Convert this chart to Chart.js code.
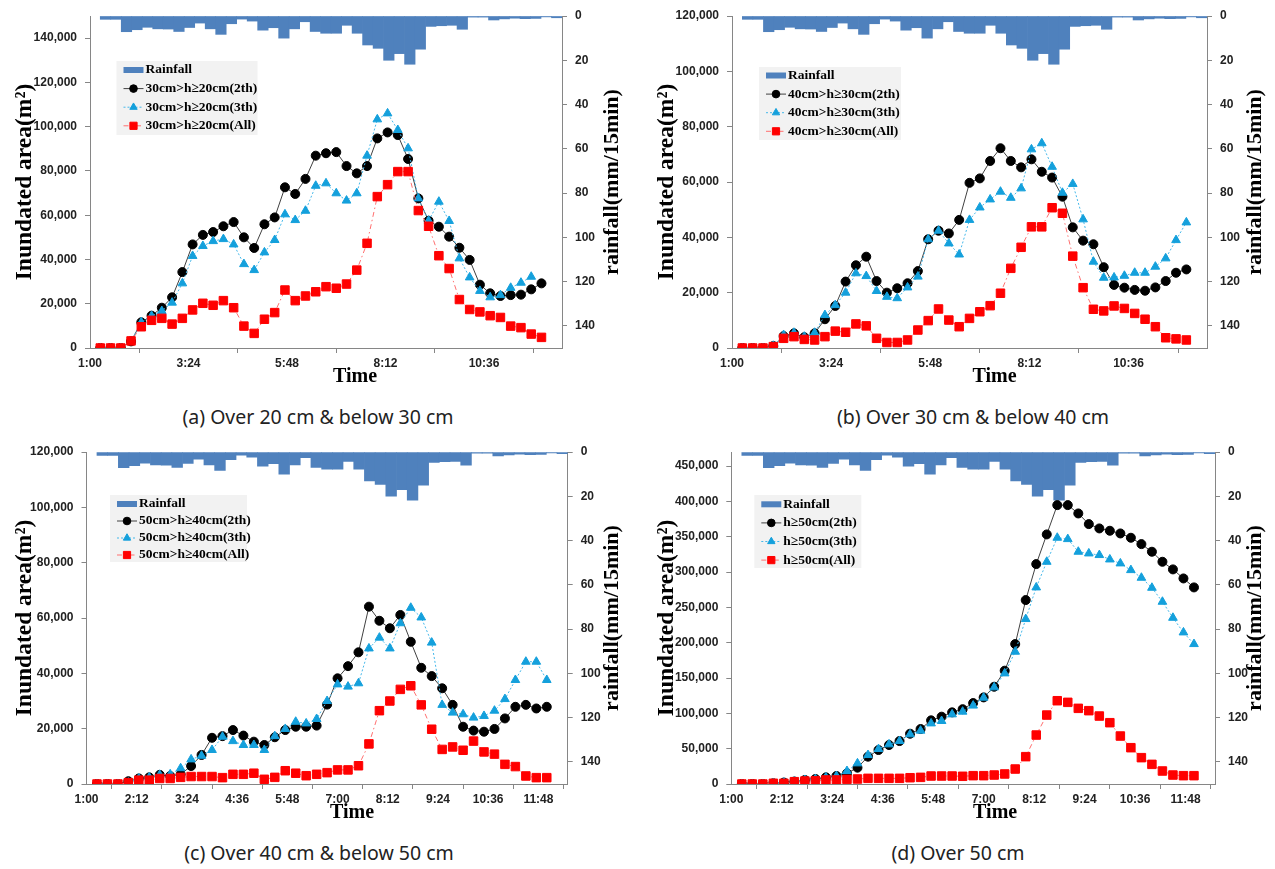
<!DOCTYPE html>
<html>
<head>
<meta charset="utf-8">
<title>Inundated area and rainfall</title>
<script src="https://cdn.jsdelivr.net/npm/chart.js@4.4.1/dist/chart.umd.min.js"></script>
<style>
  html, body { margin: 0; padding: 0; background: #fff; }
  body { position: relative; width: 1275px; height: 869px; overflow: hidden; }
  .box { position: absolute; }
  .cap { position: absolute; transform: translateX(-50%); white-space: nowrap;
         font-family: "Noto Sans", sans-serif; font-size: 19.5px; color: #222; }
</style>
</head>
<body>
<div class="box" style="left:0;top:0;width:640px;height:400px"><canvas id="chart-a"></canvas></div>
<div class="box" style="left:640px;top:0;width:635px;height:400px"><canvas id="chart-b"></canvas></div>
<div class="box" style="left:0;top:436px;width:640px;height:400px"><canvas id="chart-c"></canvas></div>
<div class="box" style="left:640px;top:436px;width:635px;height:400px"><canvas id="chart-d"></canvas></div>
<div class="cap" style="left:318px;top:403px">(a) Over 20 cm &amp; below 30 cm</div>
<div class="cap" style="left:973px;top:403px">(b) Over 30 cm &amp; below 40 cm</div>
<div class="cap" style="left:319px;top:839px">(c) Over 40 cm &amp; below 50 cm</div>
<div class="cap" style="left:958px;top:839px">(d) Over 50 cm</div>

<script>
'use strict';

// 15 min results
var times = ['1:15','1:30','1:45','2:00','2:15','2:30','2:45','3:00','3:15','3:30','3:45',
  '4:00','4:15','4:30','4:45','5:00','5:15','5:30','5:45','6:00','6:15','6:30','6:45',
  '7:00','7:15','7:30','7:45','8:00','8:15','8:30','8:45','9:00','9:15','9:30','9:45',
  '10:00','10:15','10:30','10:45','11:00','11:15','11:30','11:45','12:00'];

var ticksAB = ['1:00','3:24','5:48','8:12','10:36'];
var ticksCD = ['1:00','2:12','3:24','4:36','5:48','7:00','8:12','9:24','10:36','11:48'];
var rainTicks = [0, 20, 40, 60, 80, 100, 120, 140];
var areaTicksA = [0, 20000, 40000, 60000, 80000, 100000, 120000, 140000];
var areaTicksBC = [0, 20000, 40000, 60000, 80000, 100000, 120000];
var areaTicksD = [0, 50000, 100000, 150000, 200000, 250000, 300000, 350000, 400000, 450000];

// mm / 15min
var rainfall = [1.5, 1.5, 7.1, 6.2, 5.1, 5.8, 5.9, 7.0, 5.2, 3.2, 5.8, 8.3, 3.5, 1.4, 2.3,
  6.4, 5.3, 10.0, 5.8, 2.6, 7.0, 7.8, 7.8, 4.2, 7.8, 13.1, 14.6, 20.0, 17.0, 21.8, 15.0,
  4.7, 4.4, 4.2, 6.0, 0.5, 0.5, 1.8, 1.3, 1.0, 1.2, 1.1, 0.4, 0.8];

// (a) 30cm > h >= 20cm
var a2th = [0, 0, 0, 3000, 11600, 14600, 18200, 22900, 34300, 46800, 51100, 52400, 55000, 56900,
  50000, 45200, 55900, 59000, 72600, 69600, 76400, 86900, 88000, 88500, 82200, 78900, 82200,
  94700, 97400, 96200, 85400, 67600, 57500, 54800, 50300, 45300, 39800, 28600, 24700, 23500,
  23900, 24100, 26500, 29200];
var a3th = [0, 0, 0, 3000, 11600, 14500, 16700, 20500, 29200, 41600, 46100, 48300, 49200, 46800,
  37900, 35200, 43200, 48800, 60400, 57800, 62000, 73300, 74400, 69900, 66600, 69900, 86900,
  103300, 106000, 98500, 90200, 67600, 57500, 66100, 57400, 40500, 31900, 25800, 22900, 23900,
  27200, 29500, 32200, null];
var aAll = [0, 0, 0, 3200, 9600, 12500, 13400, 10800, 13400, 17200, 20200, 19300, 21400, 18200,
  9900, 6600, 13000, 16000, 26200, 21400, 23500, 25400, 27700, 27000, 28900, 35200, 47300,
  68400, 73800, 79700, 79700, 62100, 55000, 41700, 35900, 21900, 17400, 16300, 14600, 13800,
  9900, 9200, 6300, 4800];

// (b) 40cm > h >= 30cm
var b2th = [0, 0, 0, 700, 4300, 5300, 3900, 5300, 10400, 15200, 24000, 29900, 33000, 24200,
  20000, 21600, 23400, 27800, 39300, 42400, 41400, 46300, 59700, 61300, 67600, 72200, 67600,
  65300, 68200, 63700, 61600, 54700, 43600, 38800, 37500, 29200, 22800, 21800, 21000, 20700,
  21900, 24200, 27200, 28400];
var b3th = [0, 0, 0, 800, 4700, 5500, 4100, 5500, 11900, 15500, 20000, 27000, 26000, 20600,
  18500, 18000, 21900, 25800, 39300, 42400, 37800, 33800, 46300, 50800, 53700, 56500, 54300,
  57700, 71800, 74000, 65500, 56100, 59300, 46500, 31200, 25400, 25500, 26100, 27200, 27200,
  29400, 32400, 39000, 45400];
var bAll = [0, 0, 0, 500, 3500, 4100, 3100, 2900, 4100, 6100, 5700, 8700, 8000, 3500,
  2000, 2000, 2900, 6500, 9900, 14100, 10100, 7700, 10700, 13100, 15300, 19800, 28800,
  36400, 43800, 43800, 50700, 48700, 33200, 21800, 14000, 13400, 15200, 14300, 12500, 10400,
  7700, 3700, 3300, 2900];

// (c) 50cm > h >= 40cm
var c2th = [0, 0, 0, 1000, 2000, 2400, 3300, 2900, 3500, 6500, 10500, 16700, 17300, 19500,
  17500, 15300, 14100, 16900, 19500, 20700, 20700, 21100, 28700, 38200, 42600, 47600, 64100,
  59000, 56300, 61100, 51400, 42000, 39000, 34600, 28600, 20700, 19300, 18900, 19900, 23700,
  27900, 28600, 27300, 27900];
var c3th = [0, 0, 0, 500, 2000, 2400, 3300, 3500, 5700, 8900, 10200, 12300, 17100, 15500,
  14100, 14100, 12300, 17300, 19900, 22500, 21900, 23500, 30000, 36000, 35200, 36400, 49000,
  52900, 49000, 58100, 63700, 60200, 51100, 28600, 25800, 25200, 24000, 24600, 26500, 30700,
  37600, 44200, 44200, 37600];
var cAll = [0, 0, 0, 500, 1400, 1400, 2000, 2000, 2400, 2700, 2700, 2700, 2300, 3500,
  3500, 3900, 1700, 2400, 4800, 3900, 3000, 3500, 4100, 5100, 5100, 6600, 14500,
  26500, 30000, 34200, 35500, 28600, 19800, 12500, 13400, 12200, 15500, 11600, 10800, 7100,
  6300, 2900, 2300, 2300];

// (d) h >= 50cm
var d2th = [0, 0, 0, 1000, 2000, 3500, 5700, 7100, 9400, 11300, 15100, 23100, 38700, 48100,
  55200, 60800, 71200, 77800, 90100, 95300, 101400, 105900, 114600, 122600, 137700, 160400,
  198100, 260400, 311300, 353300, 394800, 394800, 383000, 367900, 361800, 358500, 354700,
  348600, 339600, 328800, 314600, 303800, 291000, 278300];
var d3th = [0, 0, 0, 1000, 2000, 3500, 5700, 7100, 9400, 11300, 18400, 29200, 41000, 49500,
  56100, 60800, 70300, 75500, 85800, 89200, 98600, 102400, 111000, 122200, 136800, 156600,
  187300, 233500, 278300, 314600, 348600, 346700, 328800, 326400, 324100, 317900, 312300,
  302800, 292000, 277800, 258000, 235300, 214600, 198100];
var dAll = [0, 0, 0, 1000, 1000, 3300, 4200, 4700, 5700, 5700, 6600, 7100, 8000, 8000,
  8000, 8000, 8900, 9400, 11300, 11300, 11300, 10900, 11800, 11800, 12700, 14200, 21200,
  38700, 69300, 97600, 117900, 115600, 107100, 103800, 96200, 86800, 67900, 51400, 37300,
  27800, 18400, 12700, 11800, 11800];

var X_MIN = 60, X_MAX = 750;   // 1:00 .. 12:30

function toMin(s) {
  var p = s.split(':');
  return +p[0] * 60 + +p[1];
}

function pts(arr) {
  return arr.map(function(v, i) { return { x: toMin(times[i]), y: v }; });
}

// rain columns fill the span from the first result to the right edge
function rainPts() {
  var x0 = toMin(times[0]), w = (X_MAX - x0) / rainfall.length;
  return rainfall.map(function(v, i) { return { x: x0 + (i + 0.5) * w, y: v }; });
}

// legend box, "Time" and the right axis title
var extras = {
  id: 'extras',
  afterDraw: function(chart, args, o) {
    var ctx = chart.ctx, ca = chart.chartArea;
    ctx.save();
    ctx.fillStyle = '#000';
    ctx.textAlign = 'center';
    ctx.textBaseline = 'middle';
    ctx.font = 'bold 20px "Liberation Serif"';
    ctx.fillText('Time', (ca.left + ca.right) / 2 + o.timeDx, ca.bottom + 29);

    ctx.save();
    ctx.translate(ca.right + o.rainDx, (ca.top + ca.bottom) / 2);
    ctx.rotate(-Math.PI / 2);
    ctx.font = 'bold 22px "Liberation Serif"';
    ctx.fillText('rainfall(mm/15min)', 0, 0);
    ctx.restore();

    var lg = o.legend, x0 = ca.left + lg.dx, y0 = ca.top + lg.dy;
    ctx.fillStyle = '#f2f2f2';
    ctx.fillRect(x0, y0, lg.w, lg.h);
    chart.data.datasets.forEach(function(ds, i) {
      var y = y0 + lg.first + i * lg.gap, sx = x0 + 7;
      if (ds.type === 'bar') {
        ctx.fillStyle = ds.backgroundColor;
        ctx.fillRect(sx, y - 3, 20, 6);
      } else {
        ctx.strokeStyle = ds.borderColor;
        ctx.lineWidth = 1;
        ctx.setLineDash(ds.borderDash || []);
        ctx.beginPath();
        ctx.moveTo(sx, y);
        ctx.lineTo(sx + 20, y);
        ctx.stroke();
        ctx.setLineDash([]);
        ctx.fillStyle = ds.pointBackgroundColor;
        ctx.strokeStyle = ds.pointBorderColor;
        Chart.helpers.drawPoint(ctx, {
          pointStyle: ds.pointStyle, radius: ds.pointRadius * 0.85, borderWidth: 1, rotation: 0
        }, sx + 10, y);
      }
      ctx.fillStyle = '#000';
      ctx.textAlign = 'left';
      ctx.font = 'bold 13.5px "Liberation Serif"';
      ctx.fillText(ds.label, sx + 22, y);
    });
    ctx.restore();
  }
};

var tickFont = { family: '"Liberation Sans", Arial, sans-serif', size: 12, weight: 'bold' };
var axisGrey = '#868686';

function makeChart(id, c) {
  return new Chart(document.getElementById(id), {
    type: 'line',
    data: {
      datasets: [
        { type: 'bar', label: 'Rainfall', data: rainPts(), yAxisID: 'y2',
          backgroundColor: '#4f81bd', borderWidth: 0,
          barPercentage: 1, categoryPercentage: 1, order: 4 },
        { label: c.names[0], data: pts(c.s2), yAxisID: 'y',
          borderColor: '#404040', borderWidth: 1,
          pointStyle: 'circle', pointRadius: 4.5,
          pointBackgroundColor: '#000', pointBorderColor: '#000', order: 3 },
        { label: c.names[1], data: pts(c.s3), yAxisID: 'y',
          borderColor: '#45b8ea', borderWidth: 1, borderDash: [2, 2],
          pointStyle: 'triangle', pointRadius: 5,
          pointBackgroundColor: '#14a0dc', pointBorderColor: '#14a0dc', order: 2 },
        { label: c.names[2], data: pts(c.sAll), yAxisID: 'y',
          borderColor: '#ff7070', borderWidth: 1, borderDash: [5, 3, 1.5, 3],
          pointStyle: 'rect', pointRadius: 6,
          pointBackgroundColor: '#ff0000', pointBorderColor: '#ff0000', order: 1 }
      ]
    },
    options: {
      responsive: true,
      maintainAspectRatio: false,
      animation: false,
      layout: { padding: { top: 16, left: 0, right: 0, bottom: 0 } },
      plugins: {
        legend: { display: false },
        tooltip: { enabled: false },
        extras: { timeDx: c.timeDx, rainDx: c.rainDx, legend: c.legend }
      },
      scales: {
        x: {
          type: 'linear', min: X_MIN, max: X_MAX, offset: false,
          afterBuildTicks: function(s) {
            s.ticks = c.ticks.map(function(t) { return { value: toMin(t) }; });
          },
          ticks: {
            callback: function(v, i) { return c.ticks[i]; },
            font: tickFont, color: '#222', padding: 3, maxRotation: 0, autoSkip: false
          },
          grid: { drawOnChartArea: false, tickLength: 5, color: axisGrey },
          border: { color: axisGrey },
          afterFit: function(s) { s.height = 52; }
        },
        y: {
          position: 'left', min: 0, max: c.yMax,
          afterBuildTicks: function(s) {
            s.ticks = c.yTicks.map(function(v) { return { value: v }; });
          },
          ticks: {
            callback: function(v) { return v.toLocaleString('en-US'); },
            font: tickFont, color: '#222', padding: 8
          },
          grid: { drawOnChartArea: false, tickLength: 5, color: axisGrey },
          border: { color: axisGrey },
          title: {
            display: true, text: 'Inundated area(m²)', color: '#000',
            font: { family: '"Liberation Serif"', size: 23.5, weight: 'bold' },
            padding: { top: c.titlePad, bottom: 0 }
          },
          afterFit: function(s) { s.width = c.yW; }
        },
        y2: {
          position: 'right', reverse: true, min: 0, max: 150,
          afterBuildTicks: function(s) {
            s.ticks = rainTicks.map(function(v) { return { value: v }; });
          },
          ticks: { font: tickFont, color: '#222', padding: 8 },
          grid: { drawOnChartArea: false, tickLength: 5, color: axisGrey },
          border: { color: axisGrey },
          afterFit: function(s) { s.width = c.y2W; }
        }
      }
    },
    plugins: [extras]
  });
}

makeChart('chart-a', {
  names: ['30cm>h≥20cm(2th)', '30cm>h≥20cm(3th)', '30cm>h≥20cm(All)'],
  s2: a2th, s3: a3th, sAll: aAll,
  yMax: 150000, yTicks: areaTicksA, ticks: ticksAB,
  yW: 90, y2W: 78, titlePad: 11, timeDx: 29, rainDx: 50,
  legend: { dx: 26.5, dy: 45, w: 141, h: 74, first: 9, gap: 18.6 }
});

makeChart('chart-b', {
  names: ['40cm>h≥30cm(2th)', '40cm>h≥30cm(3th)', '40cm>h≥30cm(All)'],
  s2: b2th, s3: b3th, sAll: bAll,
  yMax: 120000, yTicks: areaTicksBC, ticks: ticksAB,
  yW: 92, y2W: 68, titlePad: 13, timeDx: 25, rainDx: 48,
  legend: { dx: 27, dy: 51, w: 142, h: 73, first: 8.5, gap: 18.6 }
});

makeChart('chart-c', {
  names: ['50cm>h≥40cm(2th)', '50cm>h≥40cm(3th)', '50cm>h≥40cm(All)'],
  s2: c2th, s3: c3th, sAll: cAll,
  yMax: 120000, yTicks: areaTicksBC, ticks: ticksCD,
  yW: 86.5, y2W: 72.3, titlePad: 11, timeDx: 25, rainDx: 45,
  legend: { dx: 23.5, dy: 43, w: 137, h: 67, first: 9, gap: 17 }
});

makeChart('chart-d', {
  names: ['h≥50cm(2th)', 'h≥50cm(3th)', 'h≥50cm(All)'],
  s2: d2th, s3: d3th, sAll: dAll,
  yMax: 470000, yTicks: areaTicksD, ticks: ticksCD,
  yW: 91.3, y2W: 60, titlePad: 13, timeDx: 22, rainDx: 40,
  legend: { dx: 23, dy: 43, w: 107, h: 73, first: 9.3, gap: 18.6 }
});
</script>
</body>
</html>
